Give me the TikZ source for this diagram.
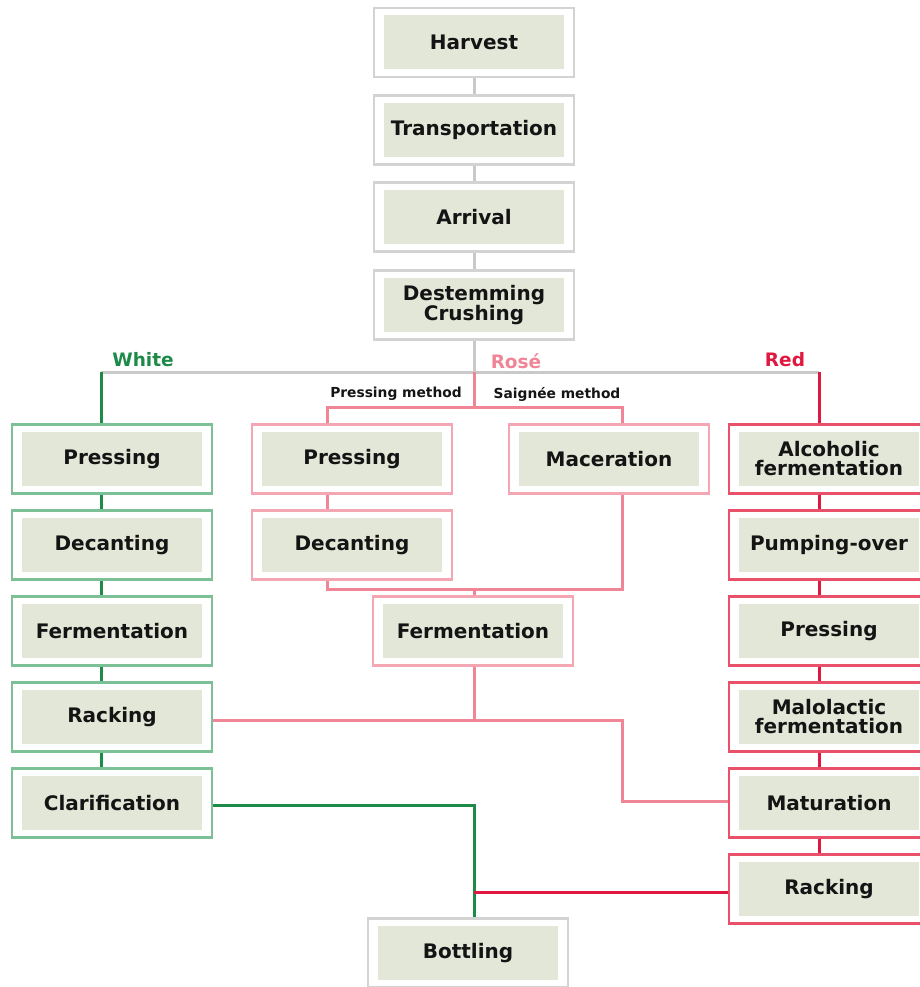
\documentclass[tikz,border=0pt]{standalone}
\usepackage{fontspec}
\setmainfont{DejaVu Sans}
\definecolor{grayb}{HTML}{D3D3D3}
\definecolor{grayline}{HTML}{C9C9C9}
\definecolor{boxfill}{HTML}{E3E7D8}
\definecolor{greenb}{HTML}{7CC097}
\definecolor{greenline}{HTML}{1E8A48}
\definecolor{pinkb}{HTML}{F5A6B3}
\definecolor{pinkline}{HTML}{F08596}
\definecolor{redb}{HTML}{E9506A}
\definecolor{redline}{HTML}{E0173F}
\definecolor{txt}{HTML}{141414}
\tikzset{
  stage/.style={minimum width=200pt, minimum height=69pt, line width=2.8pt, inner sep=0pt,
    font=\bfseries\fontsize{20}{19}\selectfont, text=txt, align=center,
    path picture={\fill[boxfill] ([xshift=10pt,yshift=-7.5pt]path picture bounding box.north west)
      rectangle ([xshift=-10pt,yshift=7.5pt]path picture bounding box.south east);}},
  graystage/.style={stage, draw=grayb},
  greenstage/.style={stage, draw=greenb},
  pinkstage/.style={stage, draw=pinkb},
  redstage/.style={stage, draw=redb},
  conn/.style={line width=3pt},
  gline/.style={conn, draw=grayline},
  grline/.style={conn, draw=greenline},
  pline/.style={conn, draw=pinkline},
  rline/.style={conn, draw=redline},
  branch/.style={font=\bfseries\fontsize{18.5}{18}\selectfont, inner sep=0pt},
  method/.style={font=\bfseries\fontsize{13.8}{14}\selectfont, text=txt, inner sep=0pt},
}
\begin{document}
\begin{tikzpicture}[x=1pt,y=-1pt]
\useasboundingbox (0,0) rectangle (920,987);
% centre column
\node[graystage] (harvest) at (474,42.5) {Harvest};
\node[graystage] (transport) at (474,130) {Transportation};
\node[graystage] (arrival) at (474,217) {Arrival};
\node[graystage] (destem) at (474,305) {Destemming\\Crushing};
% white column
\node[greenstage] (wpress) at (112,459) {Pressing};
\node[greenstage] (wdec) at (112,545) {Decanting};
\node[greenstage] (wferm) at (112,631) {Fermentation};
\node[greenstage] (wrack) at (112,717) {Racking};
\node[greenstage] (wclar) at (112,803) {Clarification};
% rose column
\node[pinkstage] (rpress) at (352,459) {Pressing};
\node[pinkstage] (rdec) at (352,545) {Decanting};
\node[pinkstage] (mac) at (609,459) {Maceration};
\node[pinkstage] (rferm) at (473,631) {Fermentation};
% red column
\node[redstage] (alc) at (829,459) {Alcoholic\\fermentation};
\node[redstage] (pump) at (829,545) {Pumping-over};
\node[redstage] (dpress) at (829,631) {Pressing};
\node[redstage] (malo) at (829,717) {Malolactic\\fermentation};
\node[redstage] (mat) at (829,803) {Maturation};
\node[redstage] (drack) at (829,889) {Racking};
% bottling
\node[graystage] (bottle) at (468,953) {Bottling};
% labels
\node[branch, text=greenline] (lwhite) at (143,360) {White};
\node[branch, text=pinkline] (lrose) at (516,361) {Rosé};
\node[branch, text=redline] (lred) at (785,360) {Red};
\node[method] (lpm) at (396,394) {Pressing method};
\node[method] (lsm) at (557,394) {Saignée method};
% coordinates
\coordinate (split) at (474,372);
\coordinate (wtop) at (101,372);
\coordinate (rtop) at (819,372);
\coordinate (rsplit) at (474,407);
\coordinate (rpl) at (327,407);
\coordinate (rmr) at (622,407);
\coordinate (rj1) at (327,589);
\coordinate (rj2) at (622,589);
\coordinate (rjc) at (474,589);
\coordinate (rfm) at (474,720);
\coordinate (rm1) at (622,720);
\coordinate (rm2) at (622,801);
\coordinate (gy) at (474,805);
\coordinate (ry) at (474,892);
% grey connectors
\draw[gline] (harvest.south) -- (transport.north);
\draw[gline] (transport.south) -- (arrival.north);
\draw[gline] (arrival.south) -- (destem.north);
\draw[gline] (destem.south) -- (split);
\draw[gline] (wtop) -- (rtop);
% white connectors
\draw[grline] (wtop) -- (wpress.north -| wtop);
\draw[grline] (wpress.south -| wtop) -- (wdec.north -| wtop);
\draw[grline] (wdec.south -| wtop) -- (wferm.north -| wtop);
\draw[grline] (wferm.south -| wtop) -- (wrack.north -| wtop);
\draw[grline] (wrack.south -| wtop) -- (wclar.north -| wtop);
% rose connectors
\draw[pline] (split) -- (rsplit);
\draw[pline] (rpress.north -| rpl) -- (rpl) -- (rmr) -- (mac.north -| rmr);
\draw[pline] (rpress.south -| rpl) -- (rdec.north -| rpl);
\draw[pline] (rdec.south -| rpl) -- (rj1) -- (rj2) -- (mac.south -| rmr);
\draw[pline] (rjc) -- (rferm.north -| rjc);
\draw[pline] (rferm.south -| rfm) -- (rfm);
\draw[pline] (wrack.east |- rfm) -- (rm1) -- (rm2) -- (mat.west |- rm2);
% red connectors
\draw[rline] (rtop) -- (alc.north -| rtop);
\draw[rline] (alc.south -| rtop) -- (pump.north -| rtop);
\draw[rline] (pump.south -| rtop) -- (dpress.north -| rtop);
\draw[rline] (dpress.south -| rtop) -- (malo.north -| rtop);
\draw[rline] (malo.south -| rtop) -- (mat.north -| rtop);
\draw[rline] (mat.south -| rtop) -- (drack.north -| rtop);
% to bottling
\draw[grline] (wclar.east |- gy) -- (gy) -- (bottle.north -| gy);
\draw[rline] (drack.west |- ry) -- (ry);
\end{tikzpicture}
\end{document}
